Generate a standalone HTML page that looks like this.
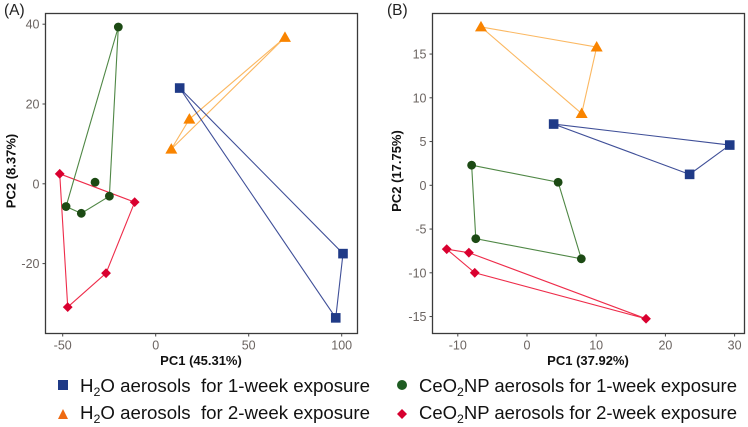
<!DOCTYPE html>
<html>
<head>
<meta charset="utf-8">
<title>PCA plots</title>
<style>
html,body{margin:0;padding:0;background:#fff;width:748px;height:427px;overflow:hidden}
svg{display:block}
text{font-family:"Liberation Sans",sans-serif}
.tick{font-size:12.5px;fill:#6b6461}
.title{font-size:13px;font-weight:bold;fill:#111}
.panel{font-size:15.5px;fill:#222}
.leg{font-size:18px;fill:#111;white-space:pre}
</style>
</head>
<body>
<svg id="chart" width="748" height="427" viewBox="0 0 748 427" xmlns="http://www.w3.org/2000/svg">
<text class="panel" x="4" y="15">(A)</text>
<text class="panel" x="387" y="15">(B)</text>
<text class="title" x="201" y="365" text-anchor="middle">PC1 (45.31%)</text>
<text class="title" x="15.5" y="171" text-anchor="middle" transform="rotate(-90 15.5 171)">PC2 (8.37%)</text>
<text class="title" x="588" y="365" text-anchor="middle">PC1 (37.92%)</text>
<text class="title" x="401" y="171" text-anchor="middle" transform="rotate(-90 401 171)">PC2 (17.75%)</text>

<g>
<rect x="58" y="380" width="10" height="10" fill="#1f3a87"/>
<text class="leg" x="80" y="392" textLength="290" lengthAdjust="spacingAndGlyphs">H<tspan font-size="12" dy="4">2</tspan><tspan dy="-4">O aerosols  for 1-week exposure</tspan></text>
<polygon points="63,409 58,419 68,419" fill="#ee6a12"/>
<text class="leg" x="80" y="419" textLength="290" lengthAdjust="spacingAndGlyphs">H<tspan font-size="12" dy="4">2</tspan><tspan dy="-4">O aerosols  for 2-week exposure</tspan></text>
<circle cx="402" cy="385" r="5" fill="#1e5c22"/>
<text class="leg" x="419" y="392" textLength="318" lengthAdjust="spacingAndGlyphs">CeO<tspan font-size="12" dy="4">2</tspan><tspan dy="-4">NP aerosols for 1-week exposure</tspan></text>
<polygon points="402,409 407,414 402,419 397,414" fill="#d6002f"/>
<text class="leg" x="419" y="419" textLength="318" lengthAdjust="spacingAndGlyphs">CeO<tspan font-size="12" dy="4">2</tspan><tspan dy="-4">NP aerosols for 2-week exposure</tspan></text>
</g>
</svg>
<script>
// Panel A data
const xTicksA = [-50, 0, 50, 100];
const yTicksA = [-20, 0, 20, 40];
const h2oWeek1A_pc1 = [12.9, 100.7, 96.8];
const h2oWeek1A_pc2 = [24.0, -17.5, -33.6];
const h2oWeek2A_pc1 = [69.5, 18.1, 8.4];
const h2oWeek2A_pc2 = [36.7, 16.2, 8.7];
const ceoWeek1A_pc1 = [-20.1, -24.9, -40.0, -48.2];
const ceoWeek1A_pc2 = [39.3, -3.1, -7.4, -5.7];
const ceoWeek1A_innerPc1 = [-32.6];
const ceoWeek1A_innerPc2 = [0.4];
const ceoWeek2A_pc1 = [-51.6, -11.3, -26.7, -47.3];
const ceoWeek2A_pc2 = [2.5, -4.6, -22.4, -30.9];

// Panel B data
const xTicksB = [-10, 0, 10, 20, 30];
const yTicksB = [-15, -10, -5, 0, 5, 10, 15];
const h2oWeek1B_pc1 = [3.85, 29.3, 23.5];
const h2oWeek1B_pc2 = [7.0, 4.6, 1.25];
const h2oWeek2B_pc1 = [-6.65, 10.07, 7.9];
const h2oWeek2B_pc2 = [18.1, 15.8, 8.2];
const ceoWeek1B_pc1 = [-8.0, 4.5, 7.85, -7.4];
const ceoWeek1B_pc2 = [2.3, 0.35, -8.4, -6.1];
const ceoWeek2B_pc1 = [-11.6, -8.4, 17.2, -7.55];
const ceoWeek2B_pc2 = [-7.3, -7.7, -15.25, -10.0];

const NS = 'http://www.w3.org/2000/svg';
const svg = document.getElementById('chart');

function makeEl(tag, attrs, parent) {
  const el = document.createElementNS(NS, tag);
  for (const k in attrs) el.setAttribute(k, attrs[k]);
  parent.appendChild(el);
  return el;
}
// axis functions
function xA(v) { return 155.7 + v * 1.86; }
function yA(v) { return 183.8 - v * 3.99; }
function xB(v) { return 527 + v * 6.92; }
function yB(v) { return 185.3 - v * 8.75; }

function drawFrame(name, left, top, right, bottom, xTicks, yTicks, fx, fy) {
  const g = makeEl('g', {}, svg);
  
  
  const frame = makeEl('rect', {x: left, y: top, width: right - left, height: bottom - top, fill: 'none', stroke: '#3a3a3a', 'stroke-width': 1.3}, g);
  
  
  xTicks.forEach(function (t) {
    const px = fx(t);
    const mark = makeEl('line', {x1: px, x2: px, y1: bottom, y2: bottom + 3, stroke: '#444', 'stroke-width': 1}, g);
    
    
    const label = makeEl('text', {x: px, y: bottom + 16, 'text-anchor': 'middle', class: 'tick'}, g);
    label.textContent = String(t);
    
    
  });
  yTicks.forEach(function (t) {
    const py = fy(t);
    const mark = makeEl('line', {x1: left - 3, x2: left, y1: py, y2: py, stroke: '#444', 'stroke-width': 1}, g);
    
    
    const label = makeEl('text', {x: left - 6, y: py + 4.5, 'text-anchor': 'end', class: 'tick'}, g);
    label.textContent = String(t);
    
    
  });
}

function drawMarker(g, shape, px, py, color, name) {
  let el;
  if (shape === 'square') {
    el = makeEl('rect', {x: px - 4.8, y: py - 4.8, width: 9.6, height: 9.6, fill: color}, g);
  } else if (shape === 'triangle') {
    el = makeEl('polygon', {points: (px) + ',' + (py - 6) + ' ' + (px - 6) + ',' + (py + 4.5) + ' ' + (px + 6) + ',' + (py + 4.5), fill: color}, g);
  } else if (shape === 'circle') {
    el = makeEl('circle', {cx: px, cy: py, r: 4.4, fill: color}, g);
  } else {
    el = makeEl('polygon', {points: px + ',' + (py - 4.9) + ' ' + (px + 4.9) + ',' + py + ' ' + px + ',' + (py + 4.9) + ' ' + (px - 4.9) + ',' + py, fill: color}, g);
  }
  
  
}

function drawSeries(name, xs, ys, fx, fy, shape, lineColor, color, extraX, extraY) {
  const g = makeEl('g', {}, svg);
  
  
  const pts = xs.map(function (x, i) { return fx(x) + ',' + fy(ys[i]); }).join(' ');
  const hull = makeEl('polygon', {points: pts, fill: 'none', stroke: lineColor, 'stroke-width': 1.1}, g);
  
  
  xs.forEach(function (x, i) { drawMarker(g, shape, fx(x), fy(ys[i]), color, name); });
  (extraX || []).forEach(function (x, i) { drawMarker(g, shape, fx(x), fy(extraY[i]), color, name); });
}

const blueLine = '#3f4f98', blue = '#1f3a87';
const orangeLine = '#fbb862', orange = '#f98400';
const greenLine = '#4f8745', green = '#1c4a14';
const redLine = '#ee2c4a', red = '#d9002f';

drawFrame('panel-a', 45.5, 13.5, 357.5, 333.5, xTicksA, yTicksA, xA, yA);
drawFrame('panel-b', 432.5, 13.5, 744.5, 333.5, xTicksB, yTicksB, xB, yB);

drawSeries('panel-a-h2o-week-2', h2oWeek2A_pc1, h2oWeek2A_pc2, xA, yA, 'triangle', orangeLine, orange);
drawSeries('panel-a-h2o-week-1', h2oWeek1A_pc1, h2oWeek1A_pc2, xA, yA, 'square', blueLine, blue);
drawSeries('panel-a-ceo2-week-2', ceoWeek2A_pc1, ceoWeek2A_pc2, xA, yA, 'diamond', redLine, red);
drawSeries('panel-a-ceo2-week-1', ceoWeek1A_pc1, ceoWeek1A_pc2, xA, yA, 'circle', greenLine, green, ceoWeek1A_innerPc1, ceoWeek1A_innerPc2);

drawSeries('panel-b-h2o-week-2', h2oWeek2B_pc1, h2oWeek2B_pc2, xB, yB, 'triangle', orangeLine, orange);
drawSeries('panel-b-h2o-week-1', h2oWeek1B_pc1, h2oWeek1B_pc2, xB, yB, 'square', blueLine, blue);
drawSeries('panel-b-ceo2-week-1', ceoWeek1B_pc1, ceoWeek1B_pc2, xB, yB, 'circle', greenLine, green);
drawSeries('panel-b-ceo2-week-2', ceoWeek2B_pc1, ceoWeek2B_pc2, xB, yB, 'diamond', redLine, red);
</script>
</body>
</html>
